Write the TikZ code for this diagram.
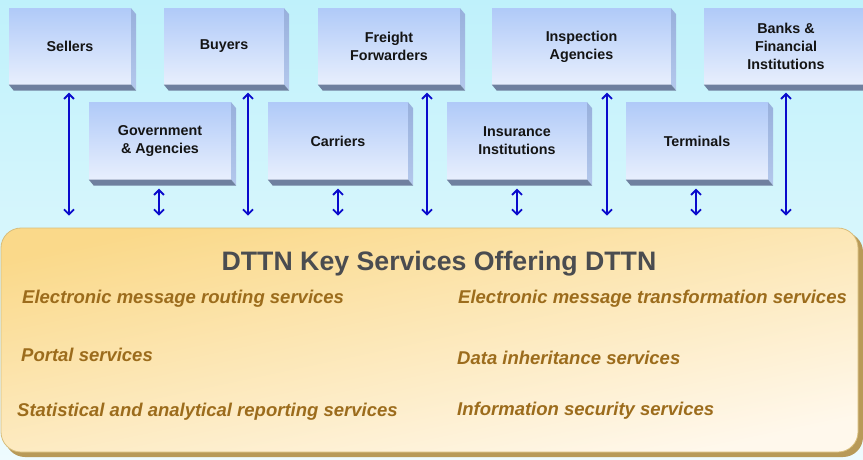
\documentclass[tikz,border=0pt]{standalone}
\usepackage{fontspec}
\setmainfont{Liberation Sans}
\usetikzlibrary{arrows.meta,calc}
\definecolor{facetop}{HTML}{B0CAF8}
\definecolor{facebot}{HTML}{E8EFFD}
\definecolor{sidetop}{HTML}{98B0DC}
\definecolor{sidebot}{HTML}{B4C8EC}
\definecolor{bottomface}{HTML}{6F809F}
\definecolor{arrblue}{HTML}{0A0ACC}
\definecolor{svcbrown}{HTML}{9C6C1C}
\definecolor{titlegray}{HTML}{4A4C50}
\definecolor{boxtext}{HTML}{141414}
\definecolor{bgtop}{HTML}{BFF1FB}
\definecolor{bgmid}{HTML}{D8F6FC}
\definecolor{bgbot}{HTML}{EEFBFE}
\definecolor{panelA}{HTML}{FAD98A}
\definecolor{panelB}{HTML}{FFF8EC}
\definecolor{panelborder}{HTML}{D8BE7C}
\definecolor{shadowgold}{HTML}{B89A58}
\begin{document}
\begin{tikzpicture}[x=1pt,y=-1pt,
  ent/.style={draw=none, top color=facetop, bottom color=facebot,
    inner sep=0pt, align=center, text=boxtext,
    font=\bfseries\fontsize{14.3}{18}\selectfont},
  rowone/.style={ent, minimum height=76pt},
  rowtwo/.style={ent, minimum height=77pt},
  arr/.style={draw=arrblue, line width=1.8pt,
    {Straight Barb[length=5pt,width=10pt]}-{Straight Barb[length=5pt,width=10pt]}},
  svc/.style={anchor=west, inner sep=0pt, text=svcbrown,
    font=\bfseries\itshape\fontsize{18.5}{22}\selectfont},
  sideface/.style={top color=sidetop, bottom color=sidebot},
  botface/.style={fill=bottomface}]
\useasboundingbox (0,0) rectangle (863,459);
\clip (0,0) rectangle (863,459);
\shade[top color=bgtop, middle color=bgmid, bottom color=bgbot] (0,0) rectangle (863,459);

% top row
\node[rowone, minimum width=122pt] (sellers) at (70,46.5) {Sellers};
\node[rowone, minimum width=120pt] (buyers) at (224,46.5) {Buyers};
\node[rowone, minimum width=142pt] (freight) at (389,46.5) {Freight\\Forwarders};
\node[rowone, minimum width=179pt] (insp) at (581.5,46.5) {Inspection\\Agencies};
\node[rowone, minimum width=164pt] (banks) at (786,46.5) {Banks \&\\Financial\\Institutions};
% second row
\node[rowtwo, minimum width=142pt] (gov) at (160,141) {Government\\\& Agencies};
\node[rowtwo, minimum width=140pt] (carriers) at (338,141) {Carriers};
\node[rowtwo, minimum width=140pt] (insur) at (517,141) {Insurance\\Institutions};
\node[rowtwo, minimum width=142pt] (term) at (697,141) {Terminals};

% 3D faces
\foreach \n in {sellers,buyers,freight,insp,banks,gov,carriers,insur,term}{
  \shade[sideface] (\n.north east) -- ++(5,6) -- ($(\n.south east)+(5,6)$) -- (\n.south east) -- cycle;
  \fill[bottomface] (\n.south west) -- (\n.south east) -- ++(5,6) -- ($(\n.south west)+(5,6)$) -- cycle;
}

% panel
\fill[shadowgold, rounded corners=20pt] (5,232) rectangle (863,457);
\node[draw=panelborder, line width=0.8pt, rounded corners=20pt,
  minimum width=857pt, minimum height=224pt, inner sep=0pt,
  top color=panelA, bottom color=panelB, shading angle=12] (panel) at (429.5,340) {};

\node[font=\bfseries\fontsize{26.7}{30}\selectfont, text=titlegray, inner sep=0pt] (title) at (439,264)
  {DTTN Key Services Offering DTTN};

\node[svc] (s1) at (22,299) {Electronic message routing services};
\node[svc] (s2) at (21,355) {Portal services};
\node[svc] (s3) at (17,412) {Statistical and analytical reporting services};
\node[svc] (s4) at (458,299) {Electronic message transformation services};
\node[svc] (s5) at (457,358) {Data inheritance services};
\node[svc] (s6) at (457,411) {Information security services};

% arrows
\coordinate (a1) at (69,0);
\coordinate (a2) at (248,0);
\coordinate (a3) at (427,0);
\coordinate (a4) at (607,0);
\coordinate (a5) at (786,0);
\coordinate (b1) at (159,0);
\coordinate (b2) at (338,0);
\coordinate (b3) at (517,0);
\coordinate (b4) at (696,0);
\foreach \n/\c in {sellers/a1,buyers/a2,freight/a3,insp/a4,banks/a5}
  \draw[arr, shorten <=8pt, shorten >=12pt] (\n.south -| \c) -- (panel.north -| \c);
\foreach \n/\c in {gov/b1,carriers/b2,insur/b3,term/b4}
  \draw[arr, shorten <=9pt, shorten >=12pt] (\n.south -| \c) -- (panel.north -| \c);
\end{tikzpicture}
\end{document}
